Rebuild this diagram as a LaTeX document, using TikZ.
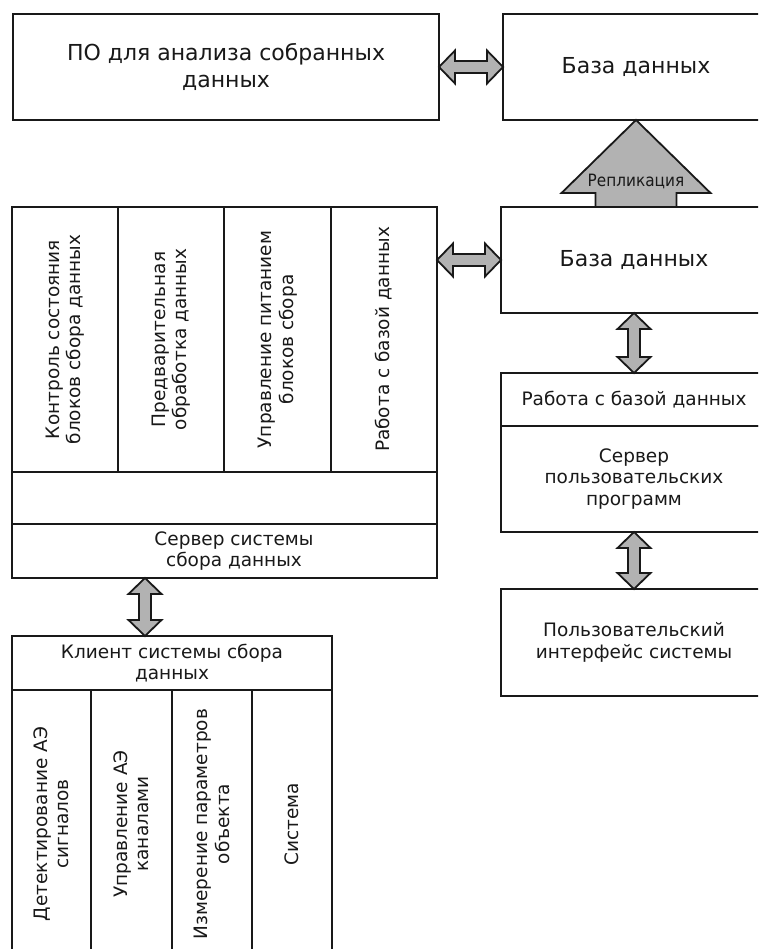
\documentclass[tikz,border=0pt]{standalone}
\usepackage{fontspec}
\setmainfont{DejaVu Sans}
\newfontfamily\replfont[FakeStretch=0.9]{DejaVu Sans}
\usetikzlibrary{calc}
\newcommand\HArrow[2]{%
  \path[barrow] let \p1=(#1), \p2=(#2) in
    (\x1,\y1) -- (\x1+16pt,\y1+16.5pt) -- (\x1+16pt,\y1+6pt) -- (\x2-16pt,\y1+6pt)
    -- (\x2-16pt,\y1+16.5pt) -- (\x2,\y1) -- (\x2-16pt,\y1-16.5pt) -- (\x2-16pt,\y1-6pt)
    -- (\x1+16pt,\y1-6pt) -- (\x1+16pt,\y1-16.5pt) -- cycle;}
\newcommand\VArrow[2]{%
  \path[barrow] let \p1=(#1), \p2=(#2) in
    (\x1,\y1) -- (\x1+16.5pt,\y1-16pt) -- (\x1+6pt,\y1-16pt) -- (\x1+6pt,\y2+16pt)
    -- (\x1+16.5pt,\y2+16pt) -- (\x1,\y2) -- (\x1-16.5pt,\y2+16pt) -- (\x1-6pt,\y2+16pt)
    -- (\x1-6pt,\y1-16pt) -- (\x1-16.5pt,\y1-16pt) -- cycle;}
\begin{document}
\begin{tikzpicture}[x=1pt,y=-1pt,
  box/.style={draw=black!90, line width=1.8pt, inner sep=0pt, outer sep=0pt,
    align=center, text=black!90, font=\fontsize{18.5}{21.5}\selectfont},
  bigbox/.style={box, font=\fontsize{22}{26.5}\selectfont},
  col/.style={box, rotate=90},
  lbl/.style={inner sep=0pt, align=center, text=black!90, font=\fontsize{18.5}{21.5}\selectfont},
  barrow/.style={draw=black!90, line width=1.8pt, fill=black!30, line join=miter}]
\useasboundingbox (0,0) rectangle (758,949);
\clip (0,0) rectangle (758,949);
\fill[white] (0,0) rectangle (758,949);

% top row
\node[bigbox, minimum width=426pt, minimum height=106pt] (po) at (226,67) {ПО для анализа собранных\\данных};
\node[bigbox, minimum width=266pt, minimum height=106pt] (db1) at (636,67) {База данных};

% data collection server
\node[box, minimum width=425pt, minimum height=371pt] (dcs) at (224.5,392.5) {};
\node[col, minimum width=265pt, minimum height=106pt] (c1) at (65,339.5) {Контроль состояния\\блоков сбора данных};
\node[col, minimum width=265pt, minimum height=106pt] (c2) at (171,339.5) {Предварительная\\обработка данных};
\node[col, minimum width=265pt, minimum height=107pt] (c3) at (277.5,339.5) {Управление питанием\\блоков сбора};
\node[col, minimum width=265pt, minimum height=106pt] (c4) at (384,339.5) {Работа с базой данных};
\node[box, minimum width=425pt, minimum height=52pt] (e) at (224.5,498) {};
\node[box, minimum width=425pt, minimum height=54pt] (s) at (224.5,551) {};
\node[lbl] (stext) at (234,551) {Сервер системы\\сбора данных};

% right column
\node[bigbox, minimum width=266pt, minimum height=106pt] (db2) at (634,260) {База данных};
\node[box, minimum width=266pt, minimum height=53pt] (ws) at (634,399.5) {Работа с базой данных};
\node[box, minimum width=266pt, minimum height=106pt] (us) at (634,479) {Сервер\\пользовательских\\программ};
\node[box, minimum width=266pt, minimum height=107pt] (ui) at (634,642.5) {Пользовательский\\интерфейс системы};

% client
\node[box, minimum width=320pt, minimum height=54pt] (clt) at (172,663) {Клиент системы сбора\\данных};
\node[col, minimum width=268pt, minimum height=79pt] (cc1) at (51.5,824) {Детектирование АЭ\\сигналов};
\node[col, minimum width=268pt, minimum height=81pt] (cc2) at (131.5,824) {Управление АЭ\\каналами};
\node[col, minimum width=268pt, minimum height=80pt] (cc3) at (212,824) {Измерение параметров\\объекта};
\node[col, minimum width=268pt, minimum height=80pt] (cc4) at (292,824) {Система};

% block arrows
\HArrow{po.east}{db1.west}
\HArrow{dcs.east |- db2.west}{db2.west}
\VArrow{db2.south}{ws.north}
\VArrow{us.south}{ui.north}
\VArrow{$(s.south west)+(133,0)$}{$(clt.north west)+(133,0)$}

% replication arrow
\path[barrow] let \p1=(db1.south), \p2=(db2.north) in
  (\x1-40.5pt,\y2) -- (\x1-40.5pt,\y2+14pt) -- (\x1-74.5pt,\y2+14pt) -- (\x1,\y1)
  -- (\x1+74.5pt,\y2+14pt) -- (\x1+40.5pt,\y2+14pt) -- (\x1+40.5pt,\y2) -- cycle;
\node[inner sep=0pt, text=black!90, font=\replfont\fontsize{17}{19}\selectfont] (repl) at ($(db1.south)+(0,61)$) {Репликация};
\end{tikzpicture}
\end{document}
